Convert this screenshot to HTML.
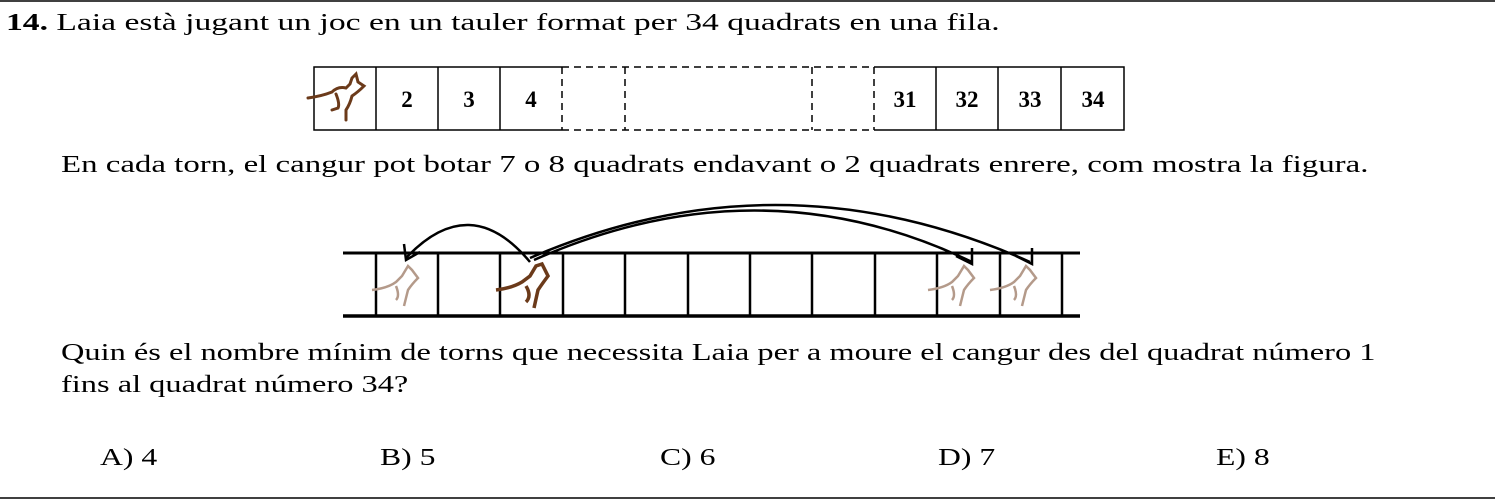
<!DOCTYPE html>
<html><head><meta charset="utf-8"><style>
body{margin:0;width:1495px;height:502px;background:#fff;overflow:hidden;position:relative;font-family:"Liberation Serif",serif;color:#000}
.t{position:absolute;font-size:24px;white-space:nowrap;line-height:1;transform-origin:0 0}
svg{position:absolute;left:0;top:0}
</style></head><body>
<svg width="1495" height="502">
<line x1="0" y1="1" x2="1495" y2="1" stroke="#000" stroke-width="1.5"/>
<line x1="0" y1="498" x2="1495" y2="498" stroke="#000" stroke-width="1.5"/>
<g stroke="#000" fill="none" stroke-width="1.5">
<path d="M562 67H314V130H562"/>
<line x1="376" y1="67" x2="376" y2="130"/><line x1="438" y1="67" x2="438" y2="130"/><line x1="500" y1="67" x2="500" y2="130"/>
<path d="M874 67H1124V130H874"/>
<line x1="936" y1="67" x2="936" y2="130"/><line x1="998" y1="67" x2="998" y2="130"/><line x1="1061" y1="67" x2="1061" y2="130"/>
<g stroke-dasharray="7,5"><path d="M562 67H874M562 130H874"/><line x1="562" y1="67" x2="562" y2="130"/><line x1="625" y1="67" x2="625" y2="130"/><line x1="812" y1="67" x2="812" y2="130"/><line x1="874" y1="67" x2="874" y2="130"/></g>
</g>
<g font-family="Liberation Serif,serif" font-size="23" text-anchor="middle" font-weight="bold">
<text x="407" y="107">2</text><text x="469" y="107">3</text><text x="531" y="107">4</text>
<text x="905" y="107">31</text><text x="967" y="107">32</text><text x="1030" y="107">33</text><text x="1093" y="107">34</text>
</g>
<g fill="none" stroke="#6b3a1a" stroke-width="3" stroke-linecap="round">
<path d="M308 98Q322 96 332 92Q338 86 346 88L350 84L352 78L356 74L358 82L364 86Q358 92 352 96Q350 104 346 110L346 120M336 94Q340 104 338 108L332 110"/>
</g>
<g stroke="#000" stroke-width="3">
<line x1="343" y1="253" x2="1080" y2="253"/><line x1="343" y1="316" x2="1080" y2="316" stroke-width="3.5"/>
<g stroke-width="2.5">
<line x1="376" y1="253" x2="376" y2="316"/><line x1="438" y1="253" x2="438" y2="316"/><line x1="500" y1="253" x2="500" y2="316"/><line x1="563" y1="253" x2="563" y2="316"/><line x1="625" y1="253" x2="625" y2="316"/><line x1="688" y1="253" x2="688" y2="316"/><line x1="750" y1="253" x2="750" y2="316"/><line x1="812" y1="253" x2="812" y2="316"/><line x1="875" y1="253" x2="875" y2="316"/><line x1="937" y1="253" x2="937" y2="316"/><line x1="1000" y1="253" x2="1000" y2="316"/><line x1="1062" y1="253" x2="1062" y2="316"/>
</g></g>
<g fill="none" stroke="#000" stroke-width="2.5">
<path d="M530 262Q470 190 406 258"/><path d="M404 244L406 260L420 252"/>
<path d="M534 260Q760 160 972 262"/><path d="M956 256L972 264L972 248"/>
<path d="M530 258Q780 150 1030 262"/><path d="M1016 256L1032 264L1032 248"/>
</g>
<g fill="none" stroke="#b49a8a" stroke-width="2.5">
<path d="M372 290Q388 288 396 282L402 276L408 266L412 270L418 278Q412 284 408 290L404 306M396 286Q400 296 396 300"/>
<path d="M928 290Q944 288 952 282L958 276L964 266L968 270L974 278Q968 284 964 290L960 306M952 286Q956 296 952 300"/>
<path d="M990 290Q1006 288 1014 282L1020 276L1026 266L1030 270L1036 278Q1030 284 1026 290L1022 306M1014 286Q1018 296 1014 300"/>
</g>
<g fill="none" stroke="#6b3a1a" stroke-width="3.5">
<path d="M496 290Q512 288 522 282L530 276L536 266L542 264L548 276Q542 284 538 290L534 308M526 286Q532 296 526 302"/>
</g>
</svg>
<div class="t" style="left:6px;top:11px;transform:scaleX(1.40)"><b>14.</b> Laia està jugant un joc en un tauler format per 34 quadrats en una fila.</div>
<div class="t" style="left:61px;top:153px;transform:scaleX(1.37)">En cada torn, el cangur pot botar 7 o 8 quadrats endavant o 2 quadrats enrere, com mostra la figura.</div>
<div class="t" style="left:61px;top:341px;transform:scaleX(1.35)">Quin és el nombre mínim de torns que necessita Laia per a moure el cangur des del quadrat número 1</div>
<div class="t" style="left:61px;top:373px;transform:scaleX(1.35)">fins al quadrat número 34?</div>
<div class="t" style="left:100px;top:446px;transform:scaleX(1.32)">A) 4</div>
<div class="t" style="left:380px;top:446px;transform:scaleX(1.32)">B) 5</div>
<div class="t" style="left:660px;top:446px;transform:scaleX(1.32)">C) 6</div>
<div class="t" style="left:938px;top:446px;transform:scaleX(1.32)">D) 7</div>
<div class="t" style="left:1216px;top:446px;transform:scaleX(1.32)">E) 8</div>
</body></html>
